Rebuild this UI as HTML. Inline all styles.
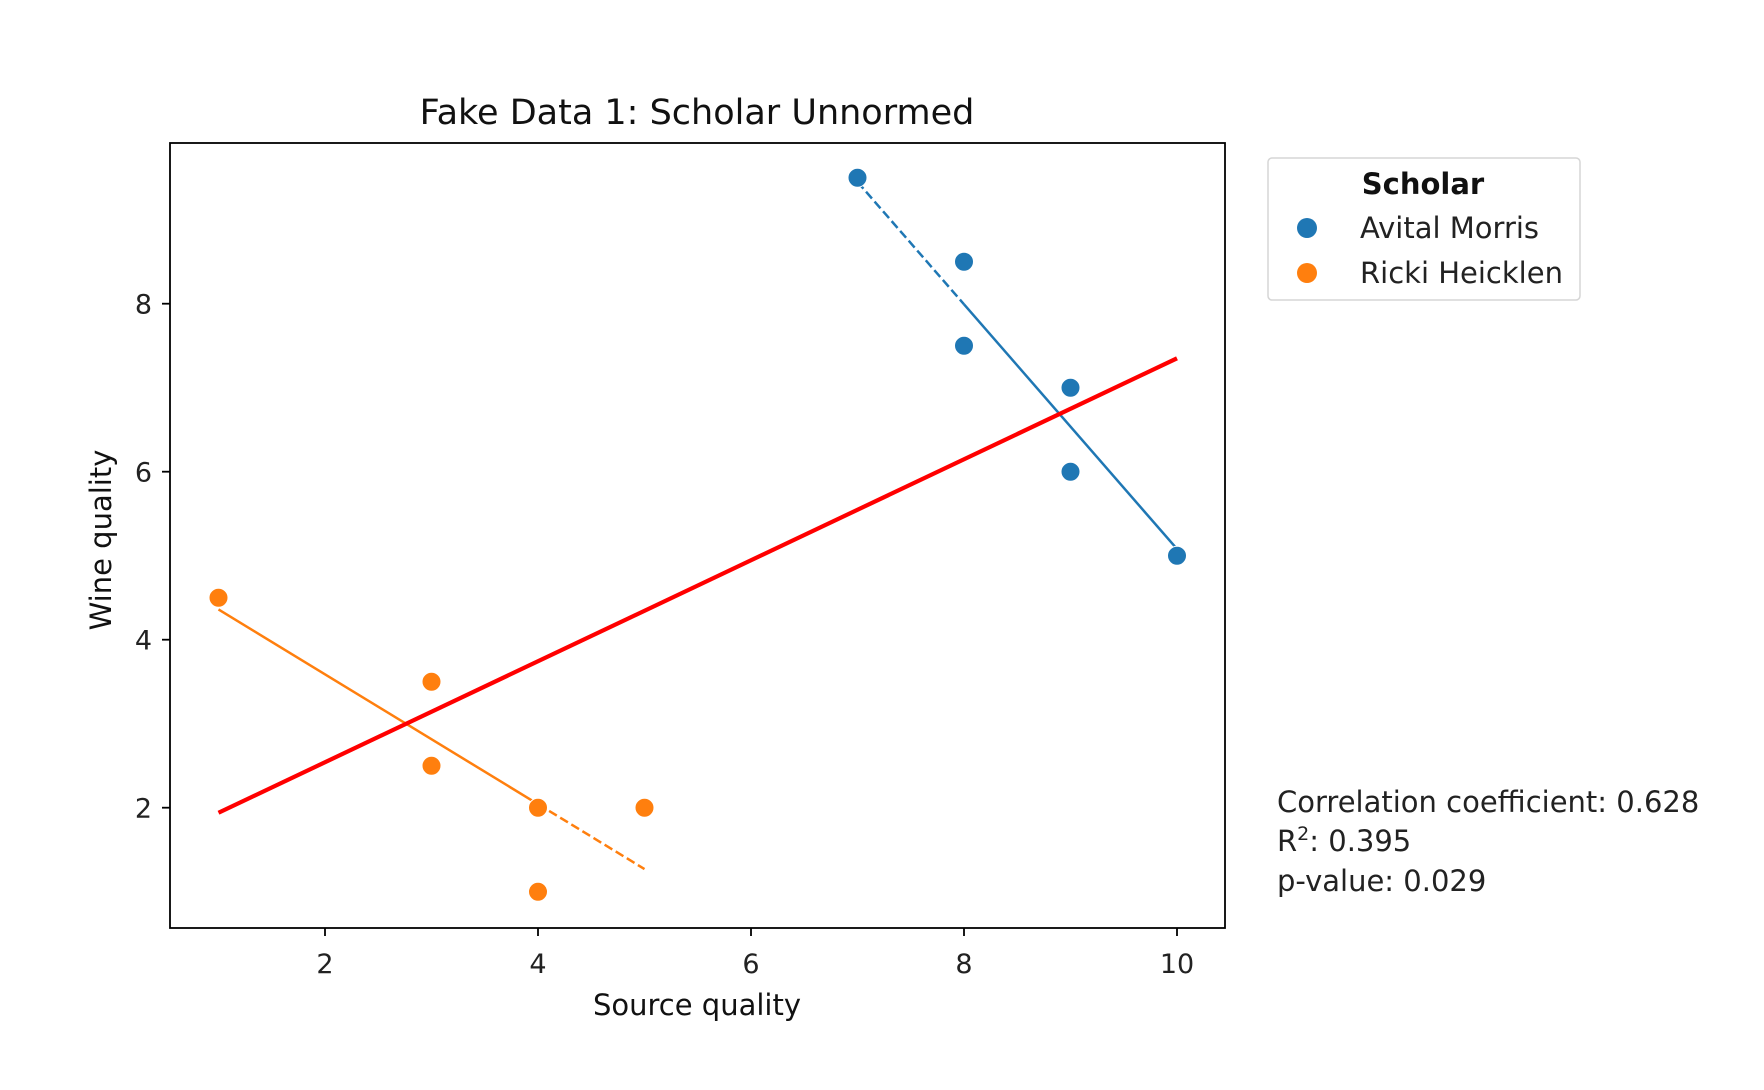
<!DOCTYPE html>
<html><head><meta charset="utf-8"><style>
body{margin:0;background:#fff;}
svg{display:block;font-family:"DejaVu Sans","Liberation Sans",sans-serif;}
</style></head><body>
<svg id="chart" width="1764" height="1090" xmlns="http://www.w3.org/2000/svg">
<g id="plot"></g>
</svg>
<script>
const xTicks=[2,4,6,8,10];
const yTicks=[2,4,6,8];
const morrisX=[7,8,8,9,9,10];
const morrisY=[9.5,8.5,7.5,7,6,5];
const heicklenX=[1,3,3,4,4,5];
const heicklenY=[4.5,3.5,2.5,2,1,2];
const overallFit=[1,1.94,10,7.35];
const morrisFit=[7,9.45,10,5.08];
const heicklenFit=[1,4.36,5,1.27];

const L=170,R=1225,T=143,B=928;
function xs(v){return 325+(v-2)*106.5;}
function ys(v){return 807.7-(v-2)*84;}
const NS='http://www.w3.org/2000/svg';
const g=document.getElementById('plot');
function mk(tag,attrs,parent){const e=document.createElementNS(NS,tag);for(const k in attrs)e.setAttribute(k,attrs[k]);(parent||g).appendChild(e);return e;}

let f=mk('rect',{x:L,y:T,width:R-L,height:B-T,fill:'none',stroke:'#000','stroke-width':1.8});



xTicks.forEach(v=>{
  let t=mk('line',{x1:xs(v),x2:xs(v),y1:B,y2:B+8,stroke:'#000','stroke-width':1.8});
  
  
  let l=mk('text',{x:xs(v),y:B+45,'text-anchor':'middle','font-size':27,fill:'#222'});
  l.textContent=v;
  
  
});
yTicks.forEach(v=>{
  let t=mk('line',{x1:L-8,x2:L,y1:ys(v),y2:ys(v),stroke:'#000','stroke-width':1.8});
  
  
  let l=mk('text',{x:L-18,y:ys(v)+10,'text-anchor':'end','font-size':27,fill:'#222'});
  l.textContent=v;
  
  
});

function fitLine(a,color,w,dashSplit,dashFirst,name){
  const [x1,y1,x2,y2]=a;
  const xm=dashSplit, ym=y1+(y2-y1)*(xm-x1)/(x2-x1);
  let s1=mk('line',{x1:xs(x1),y1:ys(y1),x2:xs(xm),y2:ys(ym),stroke:color,'stroke-width':w,'stroke-dasharray':dashFirst?'9,4':'none'});
  
  
  let s2=mk('line',{x1:xs(xm),y1:ys(ym),x2:xs(x2),y2:ys(y2),stroke:color,'stroke-width':w,'stroke-dasharray':dashFirst?'none':'9,4'});
  
  
}
fitLine(morrisFit,'#1f77b4',2.5,8,true,'morris-fit-line');
fitLine(heicklenFit,'#ff7f0e',2.5,4,false,'heicklen-fit-line');

function pts(xa,ya,color,name){
  xa.forEach((x,i)=>{
    let c=mk('circle',{cx:xs(x),cy:ys(ya[i]),r:9.5,fill:color,stroke:'#fff','stroke-width':1});
    
    
  });
}
pts(morrisX,morrisY,'#1f77b4','morris-point');
pts(heicklenX,heicklenY,'#ff7f0e','heicklen-point');

let rl=mk('line',{x1:xs(overallFit[0]),y1:ys(overallFit[1]),x2:xs(overallFit[2]),y2:ys(overallFit[3]),stroke:'#ff0000','stroke-width':4.2});


</script>
<svg style="position:absolute;left:0;top:0" width="1764" height="1090" xmlns="http://www.w3.org/2000/svg">
<text x="697" y="124" text-anchor="middle" font-size="35" fill="#111" font-family="DejaVu Sans, Liberation Sans, sans-serif">Fake Data 1: Scholar Unnormed</text>
<text x="697" y="1015" text-anchor="middle" font-size="29" fill="#111" font-family="DejaVu Sans, Liberation Sans, sans-serif">Source quality</text>
<text transform="translate(111,540) rotate(-90)" text-anchor="middle" font-size="29" fill="#111" font-family="DejaVu Sans, Liberation Sans, sans-serif">Wine quality</text>
<g font-family="DejaVu Sans, Liberation Sans, sans-serif">
<rect x="1268" y="158" width="312" height="142" rx="4" fill="#fff" stroke="#d5d5d5" stroke-width="1.5"/>
<text x="1423" y="194" text-anchor="middle" font-size="29" font-weight="bold" fill="#111">Scholar</text>
<circle cx="1307" cy="228" r="10" fill="#1f77b4"/>
<text x="1360" y="238" font-size="29" fill="#222">Avital Morris</text>
<circle cx="1307" cy="273" r="10" fill="#ff7f0e"/>
<text x="1360" y="283" font-size="29" fill="#222">Ricki Heicklen</text>
</g>
<g font-family="DejaVu Sans, Liberation Sans, sans-serif" font-size="29" fill="#222">
<text x="1277" y="812">Correlation coefficient: 0.628</text>
<text x="1277" y="851">R<tspan dy="-11" font-size="19">2</tspan><tspan dy="11">: 0.395</tspan></text>
<text x="1277" y="891">p-value: 0.029</text>
</g>
</svg>
</body></html>
